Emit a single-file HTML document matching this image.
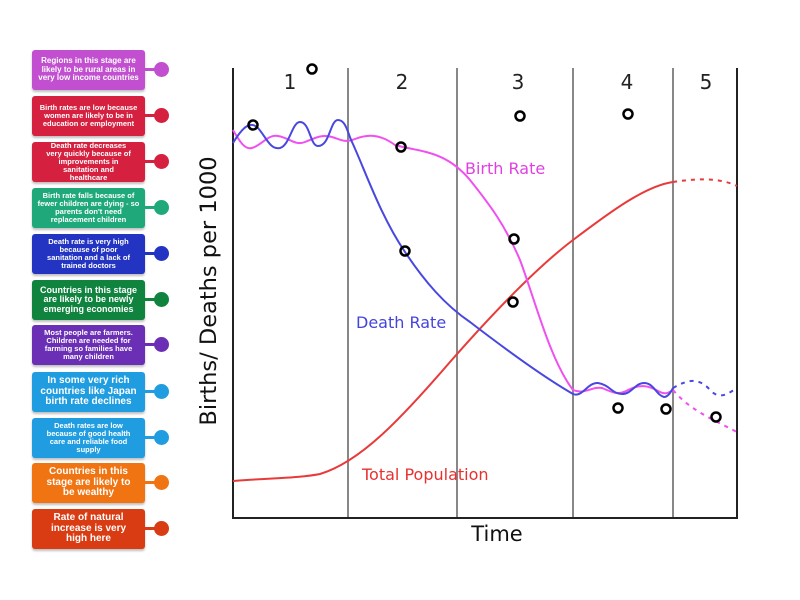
<!DOCTYPE html>
<html><head><meta charset="utf-8"><style>
body{margin:0;background:#fff;width:800px;height:600px;overflow:hidden;position:relative;font-family:"Liberation Sans","DejaVu Sans",sans-serif}
.c{position:absolute;left:32px;width:113px;height:40px;box-sizing:border-box;padding:0 7px;border-radius:3px;color:#fff;font-weight:bold;text-align:center;display:flex;align-items:center;justify-content:center;line-height:1.05;box-shadow:0 2px 2px rgba(0,0,0,.25)}
.k{position:absolute;left:113px;width:12px;height:3px;top:18px}
.d{position:absolute;left:122px;width:15px;height:15px;border-radius:50%;top:12px}
</style></head><body>
<div class="c" style="top:50px;background:#c14fcf;font-size:8px;padding:0 3px">Regions in this stage are likely to be rural areas in very low income countries<div class="k" style="background:#c14fcf"></div><div class="d" style="background:#c14fcf"></div></div>
<div class="c" style="top:96px;background:#d6203f;font-size:7.5px;padding:0 3px">Birth rates are low because women are likely to be in education or employment<div class="k" style="background:#d6203f"></div><div class="d" style="background:#d6203f"></div></div>
<div class="c" style="top:142px;background:#d6203f;font-size:7.5px;padding:0 12px">Death rate decreases very quickly because of improvements in sanitation and healthcare<div class="k" style="background:#d6203f"></div><div class="d" style="background:#d6203f"></div></div>
<div class="c" style="top:188px;background:#1fa97a;font-size:7.5px;padding:0 4px">Birth rate falls because of fewer children are dying - so parents don't need replacement children<div class="k" style="background:#1fa97a"></div><div class="d" style="background:#1fa97a"></div></div>
<div class="c" style="top:234px;background:#2334c3;font-size:7.5px;padding:0 14px">Death rate is very high because of poor sanitation and a lack of trained doctors<div class="k" style="background:#2334c3"></div><div class="d" style="background:#2334c3"></div></div>
<div class="c" style="top:280px;background:#10843f;font-size:9px;padding:0 2px">Countries in this stage are likely to be newly emerging economies<div class="k" style="background:#10843f"></div><div class="d" style="background:#10843f"></div></div>
<div class="c" style="top:325px;background:#6a2fb5;font-size:7.5px;padding:0 8px">Most people are farmers. Children are needed for farming so families have many children<div class="k" style="background:#6a2fb5"></div><div class="d" style="background:#6a2fb5"></div></div>
<div class="c" style="top:372px;background:#1f9de0;font-size:10px;padding:0 2px">In some very rich countries like Japan birth rate declines<div class="k" style="background:#1f9de0"></div><div class="d" style="background:#1f9de0"></div></div>
<div class="c" style="top:418px;background:#1f9de0;font-size:7.5px;padding:0 14px">Death rates are low because of good health care and reliable food supply<div class="k" style="background:#1f9de0"></div><div class="d" style="background:#1f9de0"></div></div>
<div class="c" style="top:463px;background:#f07412;font-size:10px;padding:0 12px">Countries in this stage are likely to be wealthy<div class="k" style="background:#f07412"></div><div class="d" style="background:#f07412"></div></div>
<div class="c" style="top:509px;background:#d93b12;font-size:10px;padding:0 14px">Rate of natural increase is very high here<div class="k" style="background:#d93b12"></div><div class="d" style="background:#d93b12"></div></div>
<svg width="800" height="600" style="position:absolute;left:0;top:0" font-family="DejaVu Sans, Liberation Sans, sans-serif">
<g stroke="#888" stroke-width="2">
<line x1="348" y1="68" x2="348" y2="518"/><line x1="457" y1="68" x2="457" y2="518"/><line x1="573" y1="68" x2="573" y2="518"/><line x1="673" y1="68" x2="673" y2="518"/></g>
<g stroke="#222" stroke-width="2" fill="none"><polyline points="233,68 233,518 737,518 737,68"/></g>
<g font-size="20" fill="#222" text-anchor="middle"><text x="290" y="89">1</text><text x="402" y="89">2</text><text x="518" y="89">3</text><text x="627" y="89">4</text><text x="706" y="89">5</text></g>
<text x="497" y="541" font-size="21" text-anchor="middle" fill="#111">Time</text>
<text transform="translate(216,291) rotate(-90)" font-size="22.5" text-anchor="middle" fill="#111">Births/ Deaths per 1000</text>
<text x="465" y="174" font-size="16" fill="#e040e0">Birth Rate</text>
<text x="356" y="328" font-size="16" fill="#4444dd">Death Rate</text>
<text x="362" y="480" font-size="16" fill="#e83030">Total Population</text>
<g fill="none" stroke-width="2">
<path stroke="#e83a3a" d="M233,481 C270,478 300,478 320,474 C360,462 400,420 450,362 C500,305 540,265 573,240 C610,212 645,186 673,182"/>
<path stroke="#e83a3a" stroke-dasharray="4,5" d="M673,182 C700,178 720,178 737,186"/>
<path stroke="#f050f0" d="M233,130 C240,142 245,150 252,148 C262,145 268,134 278,136 C290,138 295,146 305,142 C315,138 322,134 332,137 C342,140 345,143 355,139 C368,134 380,134 395,145 C420,152 445,150 470,180 C490,205 505,225 520,260 C535,300 550,360 573,390 C585,395 592,386 602,388 C612,392 618,396 628,390 C640,384 648,385 660,392 C666,395 670,392 673,390"/>
<path stroke="#f050f0" stroke-dasharray="4,5" d="M673,390 C690,410 710,418 737,432"/>
<path stroke="#4848e0" d="M233,143 C242,128 250,120 258,128 C266,137 270,150 280,148 C290,145 292,122 300,122 C310,122 310,146 318,146 C330,146 330,120 338,120 C346,120 348,134 352,142 C365,170 380,215 405,252 C425,282 445,305 470,322 C500,345 540,375 573,394 C582,398 588,382 598,383 C610,385 612,394 622,394 C632,394 635,383 644,383 C654,383 656,395 664,397 C668,397 671,392 673,388"/>
<path stroke="#4848e0" stroke-dasharray="4,5" d="M673,388 C690,378 700,378 712,392 C722,400 730,392 737,388"/>
</g>
<g fill="none" stroke="#000" stroke-width="2.5">
<circle cx="312" cy="69" r="4.5"/><circle cx="253" cy="125" r="4.5"/><circle cx="401" cy="147" r="4.5"/><circle cx="405" cy="251" r="4.5"/><circle cx="520" cy="116" r="4.5"/><circle cx="514" cy="239" r="4.5"/><circle cx="513" cy="302" r="4.5"/><circle cx="628" cy="114" r="4.5"/><circle cx="618" cy="408" r="4.5"/><circle cx="666" cy="409" r="4.5"/><circle cx="716" cy="417" r="4.5"/>
</g>
</svg>
</body></html>
